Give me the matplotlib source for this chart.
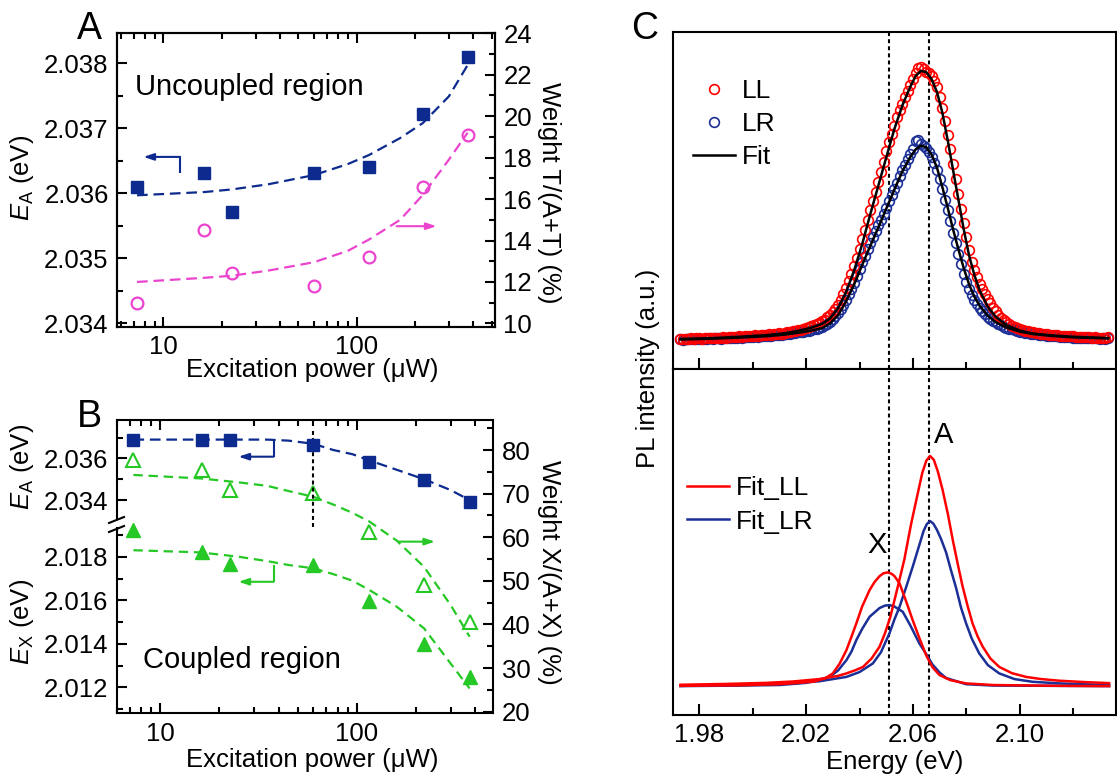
import numpy as np
import matplotlib
matplotlib.use('Agg')
import matplotlib.pyplot as plt
from matplotlib.ticker import MultipleLocator, FixedLocator, NullFormatter, FormatStrFormatter, LogLocator
from matplotlib.lines import Line2D

plt.rcParams['font.family'] = ['Liberation Sans', 'DejaVu Sans']
plt.rcParams['mathtext.fontset'] = 'custom'
plt.rcParams['mathtext.it'] = 'Liberation Sans:italic'
plt.rcParams['mathtext.rm'] = 'Liberation Sans'

navy = '#0D2B8E'
pink = '#EB44CF'
green = '#25C825'
red = '#FF0000'
blue = '#1B2F96'

# ---- panels A/B: power series
power = [7.3, 16.3, 22.6, 60, 116, 220, 375]

ea_uncoupled = [2.0361, 2.03631, 2.03571, 2.03631, 2.03641, 2.03722, 2.0381]
weight_t = [10.97, 14.5, 12.44, 11.82, 13.2, 16.57, 19.09]
fit_p = [7.3, 16.3, 22.6, 35, 60, 90, 116, 168, 220, 300, 375]
fit_ea_unc = [2.03597, 2.03602, 2.03606, 2.03614, 2.03628, 2.03645, 2.03659, 2.03685, 2.03708, 2.03749, 2.03797]
fit_wt_t = [12.0, 12.2, 12.3, 12.55, 12.95, 13.5, 14.05, 15.0, 16.2, 17.9, 19.2]

ea_coupled = [2.03688, 2.03688, 2.03688, 2.03664, 2.03584, 2.03496, 2.03392]
ex_coupled = [2.01923, 2.01823, 2.01765, 2.01762, 2.01598, 2.01399, 2.01249]
weight_x = [77.7, 75.4, 70.8, 70.1, 61.3, 49.0, 40.6]
fit_p2 = [7.3, 16, 25, 35, 45, 60, 76, 95, 116, 160, 220, 300, 375]
fit_ea_cpl = [2.0369, 2.0369, 2.0369, 2.0369, 2.03685, 2.0367, 2.0364, 2.0362, 2.0359, 2.03545, 2.0350, 2.03448, 2.0340]
fit_ex_cpl = [2.0183, 2.0182, 2.0180, 2.0178, 2.01762, 2.01747, 2.0172, 2.0169, 2.01647, 2.0157, 2.01471, 2.0131, 2.01195]
fit_wt_x = [74.3, 73.5, 72.6, 71.8, 70.6, 69.3, 67.5, 65.6, 63.6, 59.2, 53.2, 44.5, 37.2]

# ---- panel C: spectra (a.u.)
e_grid = np.round(1.973 + 0.001 * np.arange(161), 3)
ll_data = [0.4, 0.5, 0.3, 0.5, 0.6, 0.4, 0.6, 0.7, 0.5, 0.7,
           0.8, 0.6, 0.8, 0.9, 0.7, 0.9, 1.0, 0.9, 1.1, 1.0,
           1.2, 1.1, 1.3, 1.2, 1.4, 1.5, 1.3, 1.6, 1.7, 1.5,
           1.8, 1.9, 1.8, 2.1, 2.0, 2.3, 2.2, 2.5, 2.4, 2.7,
           2.8, 2.9, 3.2, 3.3, 3.6, 3.8, 4.1, 4.4, 4.8, 5.1,
           5.5, 5.8, 6.3, 6.9, 7.5, 8.4, 9.3, 10.2, 11.6, 13.1,
           14.9, 17.0, 19.3, 21.8, 24.6, 27.5, 30.4, 33.8, 37.3, 40.9,
           44.6, 48.3, 51.6, 54.9, 58.5, 62.3, 66.0, 70.1, 73.2, 76.3,
           79.2, 82.5, 85.3, 87.6, 90.1, 92.4, 94.6, 96.8, 99.0, 100.6,
           101.0, 100.2, 99.4, 98.9, 97.9, 95.8, 93.6, 90.0, 86.1, 81.2,
           76.0, 70.8, 65.3, 59.8, 54.2, 48.6, 43.2, 38.0, 33.2, 29.0,
           26.0, 23.2, 20.8, 18.8, 17.0, 15.2, 13.6, 12.0, 10.6, 9.4,
           8.3, 7.4, 6.6, 5.9, 5.3, 4.8, 4.4, 4.0, 3.7, 3.4,
           3.2, 3.0, 2.8, 2.6, 2.5, 2.3, 2.2, 2.1, 1.9, 1.8,
           1.7, 1.7, 1.6, 1.5, 1.5, 1.4, 1.3, 1.3, 1.2, 1.2,
           1.1, 1.1, 1.0, 1.0, 0.9, 1.0, 0.9, 0.8, 0.9, 0.8, 1.0]
lr_data = [0.2, 0.1, 0.3, 0.2, 0.3, 0.4, 0.2, 0.4, 0.5, 0.3,
           0.5, 0.6, 0.4, 0.6, 0.7, 0.5, 0.7, 0.8, 0.6, 0.8,
           0.9, 0.8, 1.0, 0.9, 1.1, 1.0, 1.2, 1.1, 1.3, 1.2,
           1.4, 1.3, 1.5, 1.6, 1.5, 1.7, 1.8, 1.9, 1.9, 2.1,
           2.2, 2.3, 2.5, 2.6, 2.8, 2.9, 3.1, 3.3, 3.5, 3.7,
           3.9, 4.2, 4.5, 4.9, 5.4, 6.0, 6.8, 7.7, 8.8, 10.0,
           11.4, 13.1, 14.9, 16.9, 19.0, 21.3, 23.7, 26.2, 28.8, 31.3,
           33.7, 36.0, 38.3, 40.5, 42.6, 44.6, 46.8, 48.9, 51.4, 53.8,
           56.0, 58.3, 60.6, 62.8, 64.9, 67.0, 68.8, 70.6, 73.6, 74.2,
           72.6, 72.0, 71.0, 69.6, 67.8, 65.6, 62.8, 59.5, 55.8, 52.0,
           48.0, 44.0, 39.8, 35.8, 31.8, 28.0, 24.6, 21.6, 18.9, 16.6,
           14.8, 13.2, 11.8, 10.6, 9.6, 8.7, 7.9, 7.2, 6.6, 6.0,
           5.5, 5.0, 4.6, 4.2, 3.9, 3.6, 3.3, 3.1, 2.9, 2.7,
           2.5, 2.4, 2.2, 2.1, 2.0, 1.8, 1.7, 1.6, 1.6, 1.5,
           1.4, 1.3, 1.2, 1.2, 1.1, 1.0, 1.0, 0.9, 0.9, 0.8,
           0.8, 0.7, 0.8, 0.7, 0.6, 0.7, 0.6, 0.5, 0.6, 0.5, 0.6]

fit_e = [1.973, 1.985, 1.995, 2.005, 2.012, 2.018, 2.022, 2.026, 2.029, 2.032, 2.035, 2.038,
         2.041, 2.044, 2.047, 2.050, 2.053, 2.056, 2.059, 2.061, 2.063, 2.065, 2.067, 2.069,
         2.071, 2.073, 2.075, 2.077, 2.079, 2.081, 2.083, 2.085, 2.088, 2.091, 2.095, 2.100,
         2.105, 2.112, 2.120, 2.133]
fit_ll = [0.4, 0.7, 1.2, 1.8, 2.5, 3.6, 4.6, 6.0, 8.0, 11.8, 17.8, 25.8,
          35.5, 46.5, 57.0, 67.6, 78.0, 86.8, 93.8, 97.8, 99.7, 99.2, 96.6, 91.8,
          84.2, 74.0, 63.0, 52.0, 41.0, 31.3, 24.0, 18.3, 12.3, 8.6, 5.5, 3.5,
          2.4, 1.7, 1.2, 0.7]
fit_lr = [0.2, 0.5, 0.9, 1.4, 2.0, 2.8, 3.5, 4.4, 6.2, 9.2, 14.4, 20.6,
          27.8, 34.8, 41.6, 48.6, 55.6, 62.4, 67.8, 70.6, 72.0, 71.4, 68.6, 63.8,
          56.6, 49.0, 41.0, 33.6, 26.6, 20.6, 16.0, 12.6, 9.0, 6.6, 4.6, 3.1,
          2.2, 1.5, 1.0, 0.6]

a_ll_e = [1.973, 1.990, 2.005, 2.015, 2.025, 2.032, 2.0351, 2.0385, 2.0413, 2.0445, 2.0475, 2.0495,
          2.0515, 2.0542, 2.0568, 2.0593, 2.0615, 2.0635, 2.065, 2.0664, 2.0678, 2.0693, 2.0711, 2.073,
          2.0749, 2.0768, 2.0786, 2.0805, 2.0823, 2.0842, 2.0861, 2.089, 2.0923, 2.097, 2.1023, 2.108,
          2.1147, 2.124, 2.1334]
a_ll = [0.5, 0.8, 1.2, 1.7, 2.6, 3.8, 4.7, 5.9, 7.1, 10.2, 14.6, 19.5,
        25.5, 36.3, 47.0, 60.0, 70.0, 79.0, 83.5, 85.2, 83.8, 79.5, 72.6, 64.0,
        54.1, 45.0, 36.8, 29.5, 23.2, 18.4, 14.6, 10.2, 7.1, 4.8, 3.4, 2.6,
        2.0, 1.5, 1.1]
a_lr_e = [1.973, 1.990, 2.005, 2.015, 2.025, 2.0351, 2.040, 2.045, 2.048, 2.0512, 2.053, 2.055,
          2.0575, 2.060, 2.062, 2.064, 2.0652, 2.0664, 2.0676, 2.069, 2.0705, 2.0724, 2.0742, 2.0761,
          2.078, 2.0799, 2.082, 2.0848, 2.088, 2.0923, 2.098, 2.1047, 2.1147, 2.1334]
a_lr = [0.1, 0.3, 0.6, 1.0, 1.8, 3.4, 5.2, 8.4, 12.5, 19.5, 24.5, 29.4,
        36.8, 44.5, 51.0, 57.5, 60.0, 61.1, 60.2, 57.8, 54.5, 49.5, 43.0, 36.5,
        29.0, 23.2, 17.6, 12.1, 7.8, 4.7, 2.6, 1.6, 1.0, 0.4]
x_ll_e = [1.973, 1.995, 2.0101, 2.0226, 2.027, 2.030, 2.0325, 2.0351, 2.037, 2.0388, 2.041, 2.0438,
          2.0456, 2.0475, 2.049, 2.0506, 2.052, 2.0531, 2.055, 2.0573, 2.0599, 2.0624, 2.0649, 2.0673,
          2.0699, 2.074, 2.0799, 2.090, 2.1147, 2.1334]
x_ll = [0.1, 0.3, 0.7, 1.6, 2.8, 4.7, 8.2, 13.3, 18.3, 23.2, 29.5, 35.6,
        38.5, 40.7, 41.8, 42.1, 41.6, 40.7, 38.0, 31.8, 24.4, 17.8, 11.5, 7.0,
        4.1, 2.2, 1.0, 0.4, 0.1, 0.0]
x_lr_e = [1.973, 1.995, 2.0101, 2.020, 2.0288, 2.032, 2.0351, 2.037, 2.0388, 2.041, 2.0438, 2.0475,
          2.0495, 2.0512, 2.053, 2.0562, 2.059, 2.0624, 2.065, 2.0673, 2.070, 2.0724, 2.0799, 2.090,
          2.1334]
x_lr = [0.0, 0.2, 0.4, 1.2, 3.4, 5.8, 9.6, 12.8, 17.0, 21.2, 25.7, 28.9,
        29.8, 30.0, 29.5, 27.5, 22.5, 15.8, 11.8, 8.0, 5.0, 3.0, 0.7, 0.2,
        0.0]
e_lines = [2.051, 2.066]

W, H = 1117, 781
fig = plt.figure(figsize=(W / 100, H / 100), dpi=100)


def box(x0, y0, x1, y1):
    return [x0 / W, 1 - y1 / H, (x1 - x0) / W, (y1 - y0) / H]


def ftext(x, y, s, **kw):
    fig.text(x / W, 1 - y / H, s, **kw)


def style(ax, size=18.5):
    ax.tick_params(which='both', direction='in', width=1.5, labelsize=size, pad=6)
    ax.tick_params(which='major', length=7)
    ax.tick_params(which='minor', length=4)
    for s in ax.spines.values():
        s.set_linewidth(1.5)


def logx(ax, lim):
    ax.set_xscale('log')
    ax.set_xlim(*lim)
    ax.xaxis.set_major_locator(FixedLocator([10, 100]))
    ax.set_xticklabels(['10', '100'])
    ax.xaxis.set_minor_locator(LogLocator(base=10, subs=range(2, 10)))
    ax.xaxis.set_minor_formatter(NullFormatter())


def elbow(ax, x0, ytop, ybot, xtip, yarrow, color):
    # vertical stub + horizontal arrow
    ax.plot([x0, x0], [ytop, ybot], color=color, lw=1.5, solid_capstyle='butt')
    ax.annotate('', xy=(xtip, yarrow), xytext=(x0, yarrow),
                arrowprops=dict(arrowstyle='-|>,head_length=0.6,head_width=0.2',
                                color=color, lw=1.5, shrinkA=0, shrinkB=0))


# ================= A =================
axA = fig.add_axes(box(117, 33.3, 495, 326.7))
logx(axA, (5.75, 520))
axA.set_ylim(2.03395, 2.03846)
axA.yaxis.set_major_locator(MultipleLocator(0.001))
axA.yaxis.set_minor_locator(MultipleLocator(0.0005))
axA.yaxis.set_major_formatter(FormatStrFormatter('%.3f'))
style(axA)
axA.tick_params(axis='x', which='both', top=True)
axA.plot(fit_p, fit_ea_unc, color=navy, lw=1.6, dashes=(4.8, 2.6))
axA.plot(power, ea_uncoupled, 's', color=navy, ms=8.5)
elbow(axA, 12.2, 2.03656, 2.03631, 7.88, 2.03656, navy)

axA2 = axA.twinx()
axA2.set_ylim(9.84, 24.0)
axA2.yaxis.set_major_locator(MultipleLocator(2))
axA2.yaxis.set_minor_locator(MultipleLocator(1))
style(axA2)
axA2.plot(fit_p, fit_wt_t, color=pink, lw=1.6, dashes=(4.8, 2.6))
axA2.plot(power, weight_t, 'o', mfc='none', mec=pink, mew=1.6, ms=8.5)
axA2.annotate('', xy=(259, 14.69), xytext=(161, 14.69),
              arrowprops=dict(arrowstyle='-|>,head_length=0.6,head_width=0.2',
                              color=pink, lw=1.5, shrinkA=0, shrinkB=0))

ftext(135, 95, 'Uncoupled region', fontsize=21, ha='left', va='baseline')
ftext(22, 178, '$E_\\mathrm{A}$ (eV)', fontsize=18.5, rotation=90, ha='center', va='center')
ftext(549, 193, 'Weight T/(A+T) (%)', fontsize=18.5, rotation=270, ha='center', va='center')
ftext(312, 370, 'Excitation power (\u03bcW)', fontsize=18.5, ha='center', va='center')
ftext(89, 39, 'A', fontsize=27, ha='center', va='baseline')

# ================= B =================
xlimB = (6.0, 495)
axB = fig.add_axes(box(116.7, 420, 493.3, 713.3))
logx(axB, xlimB)
axB.set_ylim(19.63, 86.9)
axB.yaxis.tick_right()
axB.yaxis.set_major_locator(MultipleLocator(10))
axB.yaxis.set_minor_locator(MultipleLocator(5))
style(axB)
axB.tick_params(axis='x', which='both', top=True)
axB.spines['left'].set_visible(False)
axB.plot(fit_p2, fit_wt_x, color=green, lw=1.6, dashes=(4.2, 2.6))
axB.plot(power, weight_x, '^', mfc='none', mec=green, mew=1.5, ms=9.5, clip_on=False)
axB.plot([60, 60], [62.4, 84.6], color='black', lw=1.5, dashes=(1.9, 1.5))
axB.annotate('', xy=(250, 59.0), xytext=(162.8, 59.0),
             arrowprops=dict(arrowstyle='-|>,head_length=0.6,head_width=0.2',
                             color=green, lw=1.5, shrinkA=0, shrinkB=0))

axBt = fig.add_axes(box(116.7, 420, 493.3, 518))
axBb = fig.add_axes(box(116.7, 528, 493.3, 713.3))
for ax, lim in ((axBt, (2.03314, 2.03784)), (axBb, (2.01081, 2.01932))):
    ax.set_xscale('log')
    ax.set_xlim(*xlimB)
    ax.set_ylim(*lim)
    ax.patch.set_visible(False)
    ax.xaxis.set_visible(False)
    for k in ('top', 'right', 'bottom'):
        ax.spines[k].set_visible(False)
    ax.yaxis.set_major_formatter(FormatStrFormatter('%.3f'))
    style(ax)
axBt.yaxis.set_major_locator(FixedLocator([2.034, 2.036]))
axBt.yaxis.set_minor_locator(FixedLocator([2.035, 2.037]))
axBb.yaxis.set_major_locator(FixedLocator([2.012, 2.014, 2.016, 2.018]))
axBb.yaxis.set_minor_locator(FixedLocator([2.011, 2.013, 2.015, 2.017, 2.019]))

axBt.plot(fit_p2, fit_ea_cpl, color=navy, lw=1.6, dashes=(4.8, 2.6))
axBt.plot(power, ea_coupled, 's', color=navy, ms=8.5, clip_on=False)
elbow(axBt, 37.7, 2.03688, 2.03608, 25, 2.03608, navy)
axBb.plot(fit_p2, fit_ex_cpl, color=green, lw=1.6, dashes=(4.2, 2.6))
axBb.plot(power, ex_coupled, '^', color=green, ms=9.5, clip_on=False)
elbow(axBb, 37.7, 2.01762, 2.01685, 25, 2.01685, green)

for yb in (520, 529):
    fig.add_artist(Line2D([109 / W, 124 / W], [1 - (yb + 3) / H, 1 - (yb - 3) / H],
                          color='black', lw=1.5))

ftext(143, 668, 'Coupled region', fontsize=21, ha='left', va='baseline')
ftext(22, 467, '$E_\\mathrm{A}$ (eV)', fontsize=18.5, rotation=90, ha='center', va='center')
ftext(22, 622, '$E_\\mathrm{X}$ (eV)', fontsize=18.5, rotation=90, ha='center', va='center')
ftext(549, 572, 'Weight X/(A+X) (%)', fontsize=18.5, rotation=270, ha='center', va='center')
ftext(312, 760, 'Excitation power (\u03bcW)', fontsize=18.5, ha='center', va='center')
ftext(89, 427, 'B', fontsize=27, ha='center', va='baseline')

# ================= C =================
axCt = fig.add_axes(box(672.7, 31.7, 1115.8, 369.3))
axCb = fig.add_axes(box(672.7, 369.3, 1115.8, 715))
axCt.set_ylim(-10.85, 114.2)
axCb.set_ylim(-10.7, 117.3)
for ax in (axCt, axCb):
    ax.set_xlim(1.9701, 2.1359)
    ax.xaxis.set_major_locator(FixedLocator([1.98, 2.02, 2.06, 2.10]))
    ax.xaxis.set_minor_locator(FixedLocator([2.00, 2.04, 2.08, 2.12]))
    ax.xaxis.set_major_formatter(FormatStrFormatter('%.2f'))
    ax.set_yticks([])
    style(ax)
    ax.tick_params(axis='x', which='major', length=8)
    ax.tick_params(axis='x', which='minor', length=5)
    for e in e_lines:
        ax.axvline(e, color='black', lw=1.5, dashes=(1.9, 1.5))
axCt.tick_params(axis='x', labelbottom=False)

lr_pts, = axCt.plot(e_grid, lr_data, 'o', mfc='none', mec=blue, mew=1.2, ms=7)
ll_pts, = axCt.plot(e_grid, ll_data, 'o', mfc='none', mec=red, mew=1.2, ms=7)
fit_line, = axCt.plot(fit_e, fit_ll, color='black', lw=1.8)
axCt.plot(fit_e, fit_lr, color='black', lw=1.8)
axCt.legend([ll_pts, lr_pts, fit_line], ['LL', 'LR', 'Fit'], loc='upper left',
            bbox_to_anchor=(0.046, 0.86), frameon=False, fontsize=19,
            handlelength=1.6, handletextpad=0.25, labelspacing=0.35,
            borderpad=0, borderaxespad=0)

axCb.plot(x_lr_e, x_lr, color=blue, lw=1.8)
axCb.plot(a_lr_e, a_lr, color=blue, lw=1.8)
l_ll, = axCb.plot(x_ll_e, x_ll, color=red, lw=1.8)
axCb.plot(a_ll_e, a_ll, color=red, lw=1.8)
l_lr = Line2D([], [], color=blue, lw=1.8)
axCb.legend([l_ll, l_lr], ['Fit_LL', 'Fit_LR'], loc='upper left',
            bbox_to_anchor=(0.032, 0.69), frameon=False, fontsize=19,
            handlelength=1.6, handletextpad=0.25, labelspacing=0.35,
            borderpad=0, borderaxespad=0)
axCb.text(2.0464, 49.3, 'X', fontsize=21, ha='center', va='baseline')
axCb.text(2.0713, 90.0, 'A', fontsize=21, ha='center', va='baseline')
axCb.set_xlabel('Energy (eV)', fontsize=18.5, labelpad=2)

ftext(648, 368, 'PL intensity (a.u.)', fontsize=18.5, rotation=90, ha='center', va='center')
ftext(645, 39, 'C', fontsize=27, ha='center', va='baseline')

fig.savefig('out.png', dpi=100)
